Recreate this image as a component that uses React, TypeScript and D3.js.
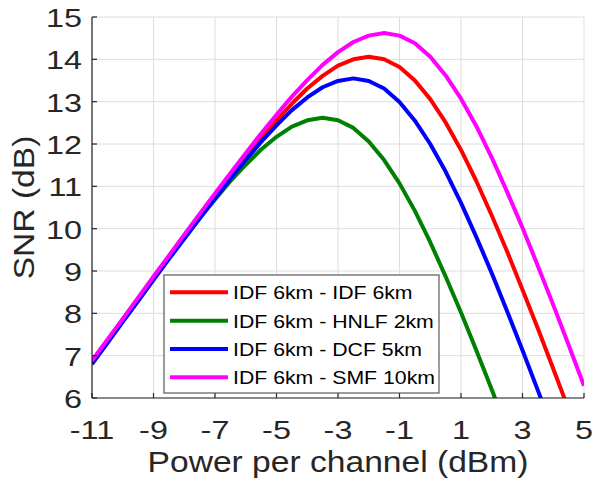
import React from "react";
import * as d3 from "d3";

const power: number[] = [
  -11, -10.5, -10, -9.5, -9, -8.5, -8, -7.5, -7, -6.5, -6, -5.5, -5, -4.5, -4, -3.5,
  -3, -2.5, -2, -1.5, -1, -0.5, 0, 0.5, 1, 1.5, 2, 2.5, 3, 3.5, 4, 4.5, 5,
];

const snrIdfIdf: number[] = [
  6.82, 7.31, 7.81, 8.31, 8.8, 9.3, 9.79, 10.27, 10.75, 11.22, 11.69, 12.13, 12.56, 12.95,
  13.31, 13.61, 13.85, 14.0, 14.06, 14.0, 13.82, 13.5, 13.06, 12.51, 11.86, 11.12, 10.31,
  9.46, 8.56, 7.64, 6.69, 5.73, 4.76,
];
const snrIdfHnlf: number[] = [
  6.87, 7.36, 7.86, 8.35, 8.83, 9.31, 9.78, 10.25, 10.69, 11.12, 11.51, 11.87, 12.17, 12.41,
  12.56, 12.62, 12.56, 12.38, 12.06, 11.62, 11.07, 10.42, 9.68, 8.87, 8.02, 7.12, 6.2, 5.25,
  4.29, 3.32, 2.35, 1.37, 0.39,
];
const snrIdfDcf: number[] = [
  6.8, 7.3, 7.8, 8.29, 8.79, 9.28, 9.76, 10.24, 10.71, 11.18, 11.62, 12.05, 12.44, 12.8,
  13.1, 13.34, 13.49, 13.55, 13.49, 13.31, 12.99, 12.55, 12.0, 11.35, 10.61, 9.8, 8.95,
  8.05, 7.13, 6.18, 5.22, 4.25, 3.27,
];
const snrIdfSmf: number[] = [
  6.88, 7.38, 7.87, 8.37, 8.87, 9.36, 9.86, 10.35, 10.83, 11.31, 11.78, 12.25, 12.69, 13.12,
  13.51, 13.87, 14.17, 14.41, 14.56, 14.62, 14.56, 14.38, 14.06, 13.62, 13.07, 12.42, 11.68,
  10.87, 10.02, 9.12, 8.2, 7.25, 6.29,
];

const seriesNames: string[] = [
  "IDF 6km - IDF 6km",
  "IDF 6km - HNLF 2km",
  "IDF 6km - DCF 5km",
  "IDF 6km - SMF 10km",
];
const seriesColors: string[] = ["#ff0000", "#008000", "#0000ff", "#ff00ff"];
const seriesValues: number[][] = [snrIdfIdf, snrIdfHnlf, snrIdfDcf, snrIdfSmf];

const xTicks: number[] = [-11, -9, -7, -5, -3, -1, 1, 3, 5];
const yTicks: number[] = [6, 7, 8, 9, 10, 11, 12, 13, 14, 15];

const xTitle = "Power per channel (dBm)";
const yTitle = "SNR (dB)";

const W = 592;
const H = 489;
const M = { left: 92, right: 584, top: 17, bottom: 398 };
const AX = "#262626";
const GRID = "#dedede";
const FONT = "'Liberation Sans', Arial, Helvetica, sans-serif";
const TICK_FS = 25.5;
const TICK_SX = 1.27;

const fmt = (v: number) => String(v);

export default function App() {
  const x = d3.scaleLinear().domain([-11, 5]).range([M.left, M.right]);
  const y = d3.scaleLinear().domain([6, 15]).range([M.bottom, M.top]);
  const line = d3
    .line<[number, number]>()
    .x((d) => x(d[0]))
    .y((d) => y(d[1]));

  const legendX = 164;
  const legendY = 275;
  const legendW = 275;
  const legendH = 118;
  const rowY = [292.3, 320.7, 349, 377.3];

  return (
    <svg
      width={W}
      height={H}
      style={{ position: "absolute", left: 0, top: 0, background: "#fff" }}
      fontFamily={FONT}
    >
      <rect x={0} y={0} width={W} height={H} fill="#fff" />
      <defs>
        <clipPath id="plotclip">
          <rect x={M.left} y={M.top} width={M.right - M.left} height={M.bottom - M.top} />
        </clipPath>
      </defs>
      {/* grid */}
      {xTicks.map((t) => (
        <line key={"gx" + t} x1={x(t)} x2={x(t)} y1={M.top} y2={M.bottom} stroke={GRID} strokeWidth={1} />
      ))}
      {yTicks.map((t) => (
        <line key={"gy" + t} x1={M.left} x2={M.right} y1={y(t)} y2={y(t)} stroke={GRID} strokeWidth={1} />
      ))}
      {/* curves */}
      <g clipPath="url(#plotclip)">
        {seriesValues.map((vals, i) => (
          <path
            key={"s" + i}
            d={line(power.map((p, j) => [p, vals[j]] as [number, number])) || ""}
            fill="none"
            stroke={seriesColors[i]}
            strokeWidth={4}
            strokeLinejoin="round"
          />
        ))}
      </g>
      {/* axes */}
      <line x1={M.left} x2={M.left} y1={M.top} y2={M.bottom} stroke={AX} strokeWidth={1.2} />
      <line x1={M.left} x2={M.right} y1={M.bottom} y2={M.bottom} stroke={AX} strokeWidth={1.2} />
      {xTicks.map((t) => (
        <g key={"tx" + t}>
          <line x1={x(t)} x2={x(t)} y1={M.bottom} y2={M.bottom - 5} stroke={AX} strokeWidth={1.2} />
          <text
            transform={`translate(${x(t)},439) scale(${TICK_SX},1)`}
            textAnchor="middle"
            fontSize={TICK_FS}
            fill={AX}
          >
            {fmt(t)}
          </text>
        </g>
      ))}
      {yTicks.map((t) => (
        <g key={"ty" + t}>
          <line x1={M.left} x2={M.left + 5} y1={y(t)} y2={y(t)} stroke={AX} strokeWidth={1.2} />
          <text
            transform={`translate(82,${y(t) + 10}) scale(${TICK_SX},1)`}
            textAnchor="end"
            fontSize={TICK_FS}
            fill={AX}
          >
            {fmt(t)}
          </text>
        </g>
      ))}
      {/* titles */}
      <text
        transform={`translate(${(M.left + M.right) / 2},471.5) scale(1.12,1)`}
        textAnchor="middle"
        fontSize={30}
        fill={AX}
      >
        {xTitle}
      </text>
      <text
        transform={`translate(34,${(M.top + M.bottom) / 2}) rotate(-90) scale(1.12,1)`}
        textAnchor="middle"
        fontSize={30}
        fill={AX}
      >
        {yTitle}
      </text>
      {/* legend */}
      <rect x={legendX} y={legendY} width={legendW} height={legendH} fill="#fff" stroke="#5a5a5a" strokeWidth={1.2} />
      {seriesNames.map((name, i) => (
        <g key={"lg" + i}>
          <line x1={170} x2={228} y1={rowY[i]} y2={rowY[i]} stroke={seriesColors[i]} strokeWidth={4} />
          <text
            transform={`translate(233,${rowY[i] + 7}) scale(1.12,1)`}
            fontSize={19}
            fill="#000"
          >
            {name}
          </text>
        </g>
      ))}
    </svg>
  );
}
